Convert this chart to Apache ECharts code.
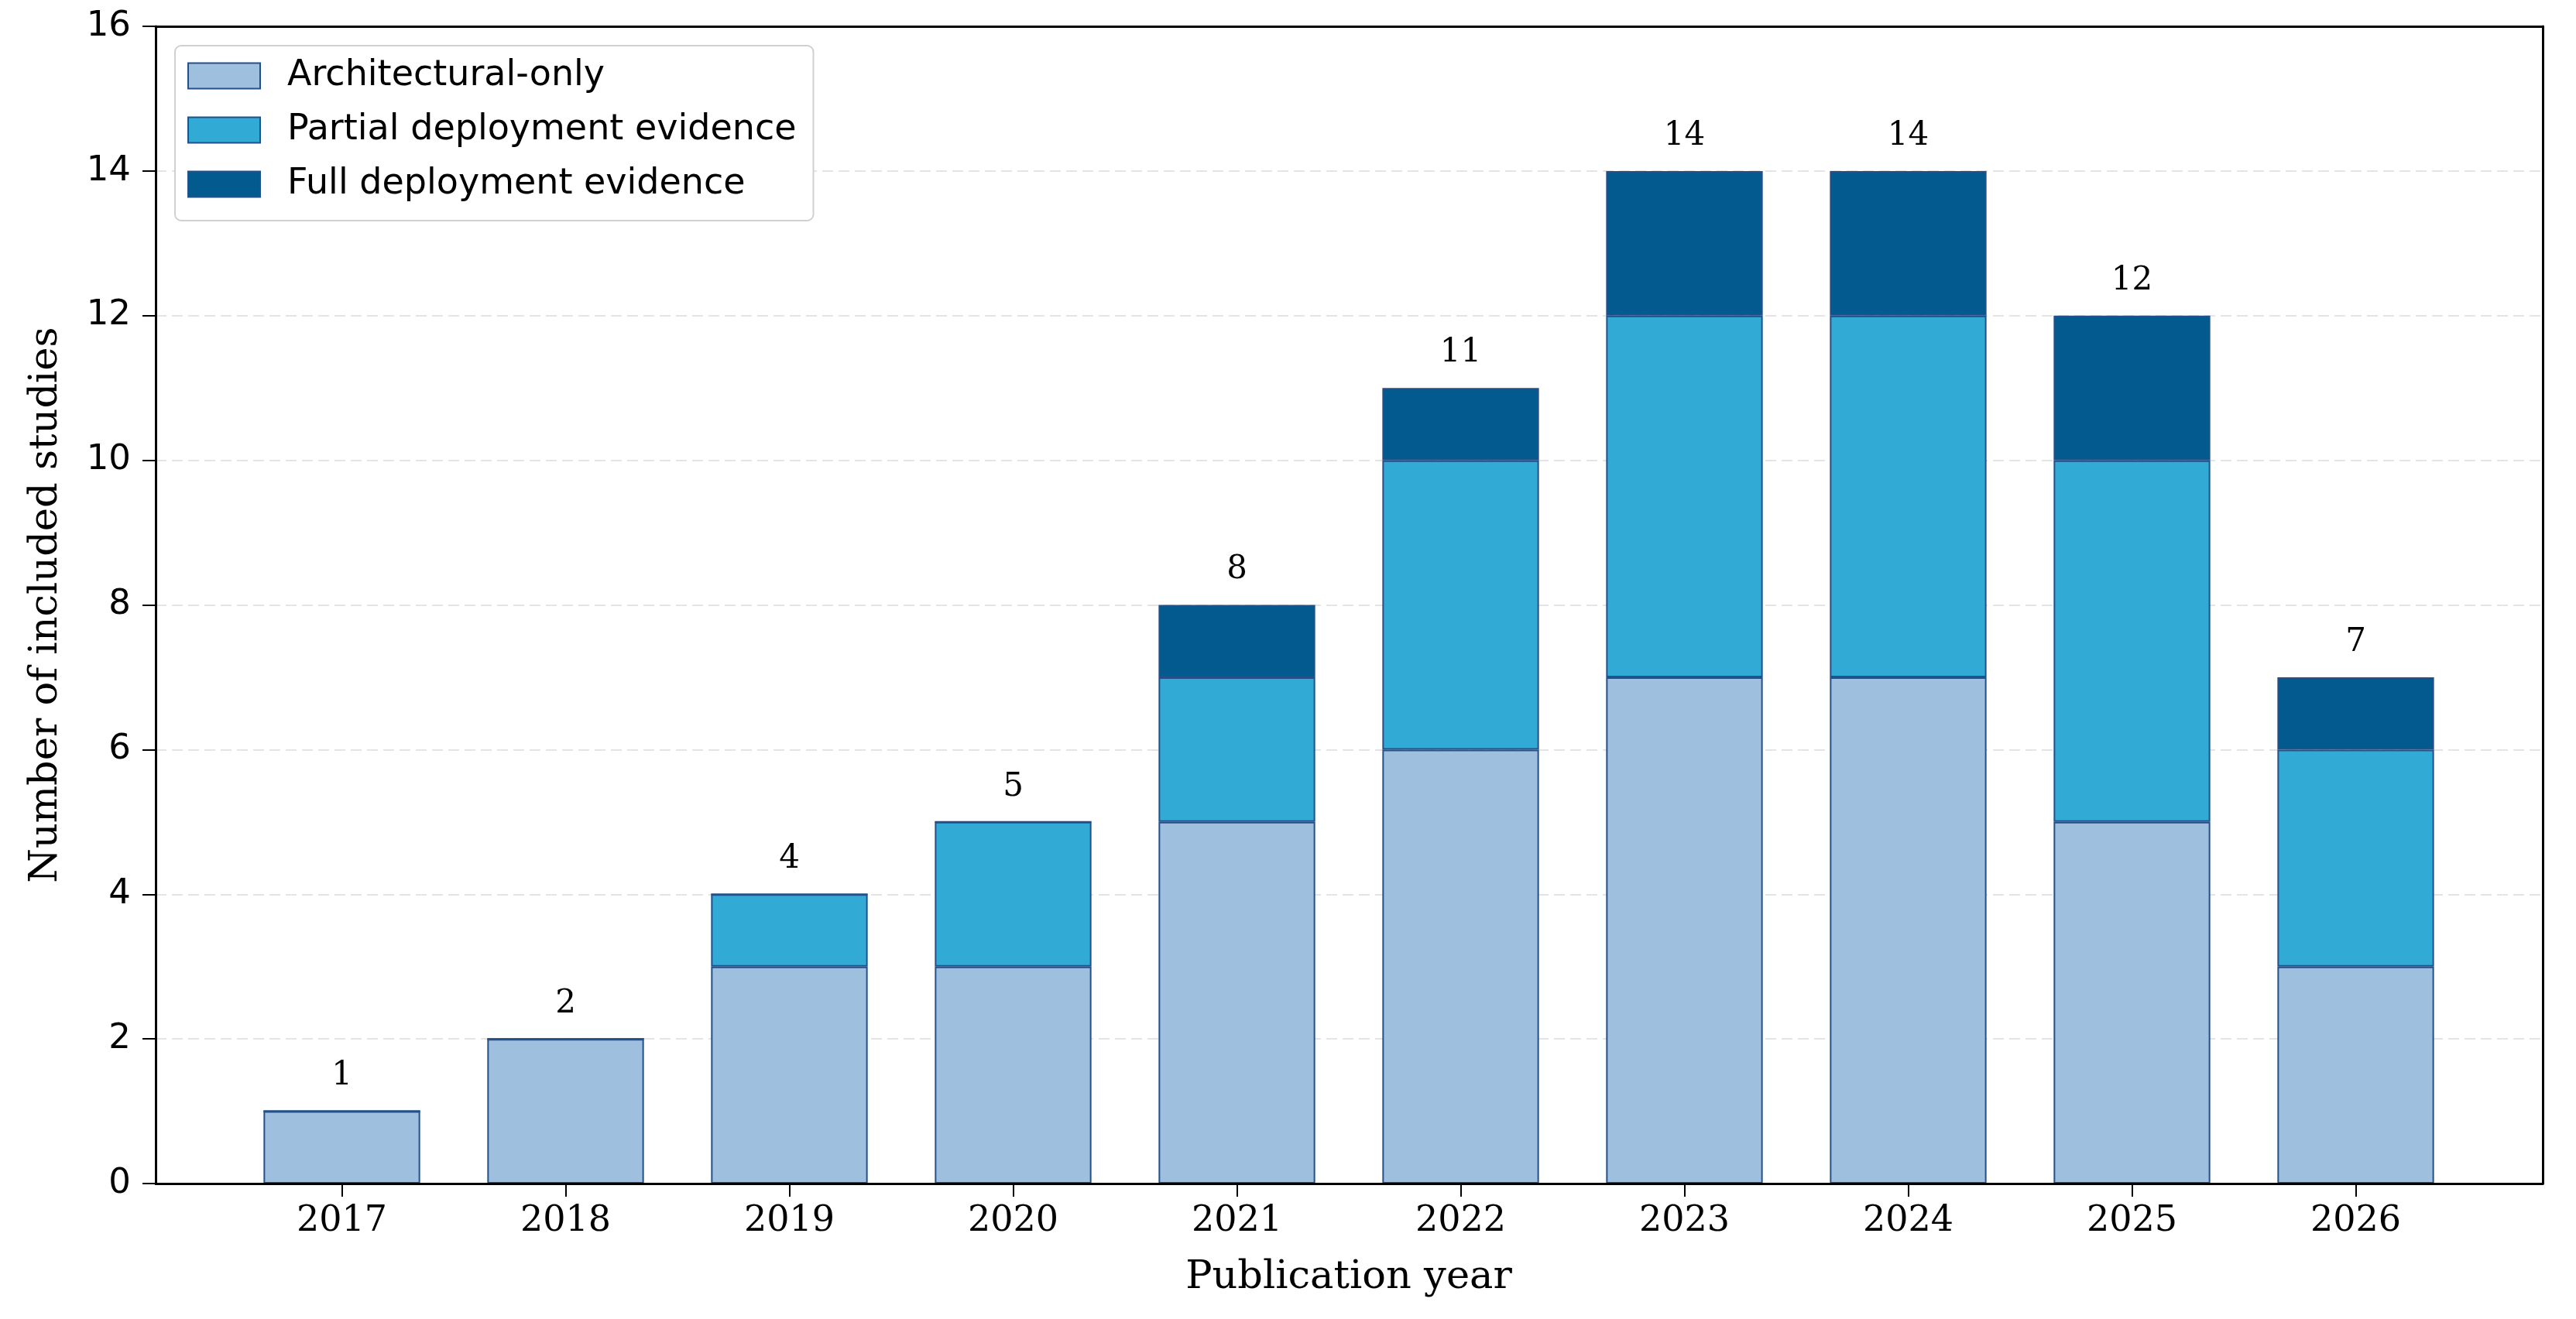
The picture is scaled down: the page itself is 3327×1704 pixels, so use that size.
<!DOCTYPE html>
<html>
<head>
<meta charset="utf-8">
<script src="https://cdn.jsdelivr.net/npm/echarts@6/dist/echarts.min.js"></script>
<style>
html, body { margin: 0; padding: 0; background: #fff; }
#chart { width: 3327px; height: 1704px; }
</style>
</head>
<body>
<div id="chart"></div>
<script>
// data
var years = ['2017', '2018', '2019', '2020', '2021', '2022', '2023', '2024', '2025', '2026']
var archOnly = [1, 2, 3, 3, 5, 6, 7, 7, 5, 3]
var partial = [0, 0, 1, 2, 2, 4, 5, 5, 5, 3]
var full = [0, 0, 0, 0, 1, 1, 2, 2, 2, 1]
var totals = [1, 2, 4, 5, 8, 11, 14, 14, 12, 7]
var seriesNames = ['Architectural-only', 'Partial deployment evidence', 'Full deployment evidence']
var colors = ['#9fbfdf', '#31aad5', '#035a8e']

var serif = 'DejaVu Serif'
var sans = 'DejaVu Sans'
var edge = '#24508a'

// grid 0 holds the bars (category span), grid 1 is the outer frame with margins like matplotlib
var gridTop = 34
var gridBottom = 175

function barSeries(name, arr, color) {
    return {
        name: name,
        type: 'bar',
        stack: 'total',
        xAxisIndex: 0,
        yAxisIndex: 0,
        barWidth: '70%',
        data: arr,
        itemStyle: { color: color, borderColor: edge, borderWidth: 2 },
        emphasis: { disabled: true }
    }
}

var option = {
    animation: false,
    backgroundColor: '#fff',
    grid: [
        { left: 297, right: 140, top: gridTop, bottom: gridBottom, containLabel: false },
        { left: 201, right: 43, top: gridTop, bottom: gridBottom, containLabel: false }
    ],
    legend: {
        data: seriesNames,
        orient: 'vertical',
        left: 226,
        top: 59,
        padding: [16, 22, 24, 16],
        icon: 'rect',
        itemWidth: 93,
        itemHeight: 33,
        itemGap: 24,
        backgroundColor: '#fff',
        borderColor: '#d0d0d0',
        borderWidth: 2,
        borderRadius: 8,
        z: 10,
        textStyle: { fontFamily: sans, fontSize: 46, color: '#000', padding: [0, 0, 0, 30] }
    },
    xAxis: [
        {
            type: 'category',
            gridIndex: 0,
            data: years,
            boundaryGap: true,
            name: 'Publication year',
            nameLocation: 'middle',
            nameGap: 96,
            nameTextStyle: { fontFamily: serif, fontSize: 51, color: '#000' },
            axisLine: { show: false },
            axisTick: { show: true, alignWithLabel: true, length: 17, lineStyle: { color: '#000', width: 2 } },
            axisLabel: { margin: 26, fontFamily: serif, fontSize: 46, color: '#000' },
            splitLine: { show: false }
        },
        {
            type: 'value',
            gridIndex: 1,
            position: 'bottom',
            min: 0,
            max: 1,
            z: 5,
            axisLine: { show: true, onZero: false, lineStyle: { color: '#000', width: 3 } },
            axisTick: { show: false },
            axisLabel: { show: false },
            splitLine: { show: false }
        },
        {
            type: 'value',
            gridIndex: 1,
            position: 'top',
            min: 0,
            max: 1,
            z: 5,
            axisLine: { show: true, onZero: false, lineStyle: { color: '#000', width: 3 } },
            axisTick: { show: false },
            axisLabel: { show: false },
            splitLine: { show: false }
        }
    ],
    yAxis: [
        {
            type: 'value',
            gridIndex: 0,
            min: 0,
            max: 16,
            interval: 2,
            axisLine: { show: false },
            axisTick: { show: false },
            axisLabel: { show: false },
            splitLine: { show: false }
        },
        {
            type: 'value',
            gridIndex: 1,
            min: 0,
            max: 16,
            interval: 2,
            name: 'Number of included studies',
            nameLocation: 'middle',
            nameGap: 116,
            nameTextStyle: { fontFamily: serif, fontSize: 51, color: '#000' },
            axisLine: { show: true, onZero: false, lineStyle: { color: '#000', width: 3 } },
            axisTick: { show: true, length: 17, lineStyle: { color: '#000', width: 2 } },
            axisLabel: { margin: 32, fontFamily: sans, fontSize: 45, color: '#000' },
            splitLine: { show: true, lineStyle: { color: '#e4e4e4', width: 2, type: [14, 7] } }
        },
        {
            type: 'value',
            gridIndex: 1,
            position: 'right',
            min: 0,
            max: 16,
            interval: 2,
            z: 5,
            axisLine: { show: true, onZero: false, lineStyle: { color: '#000', width: 3 } },
            axisTick: { show: false },
            axisLabel: { show: false },
            splitLine: { show: false }
        }
    ],
    series: [
        barSeries(seriesNames[0], archOnly, colors[0]),
        barSeries(seriesNames[1], partial, colors[1]),
        barSeries(seriesNames[2], full, colors[2]),
        {
            // zero-height cap that carries the total label
            name: 'Total',
            type: 'bar',
            stack: 'total',
            xAxisIndex: 0,
            yAxisIndex: 0,
            barWidth: '70%',
            data: totals.map(function() { return 0 }),
            itemStyle: { color: 'rgba(0,0,0,0)', borderWidth: 0 },
            label: {
                show: true,
                position: 'top',
                distance: 24,
                fontFamily: serif,
                fontSize: 42,
                color: '#000',
                formatter: function(p) { return String(totals[p.dataIndex]) }
            },
            emphasis: { disabled: true }
        }
    ]
}

var chart = echarts.init(document.getElementById('chart'))
chart.setOption(option)
window.addEventListener('resize', function() {
    chart.resize()
})
</script>
</body>
</html>
